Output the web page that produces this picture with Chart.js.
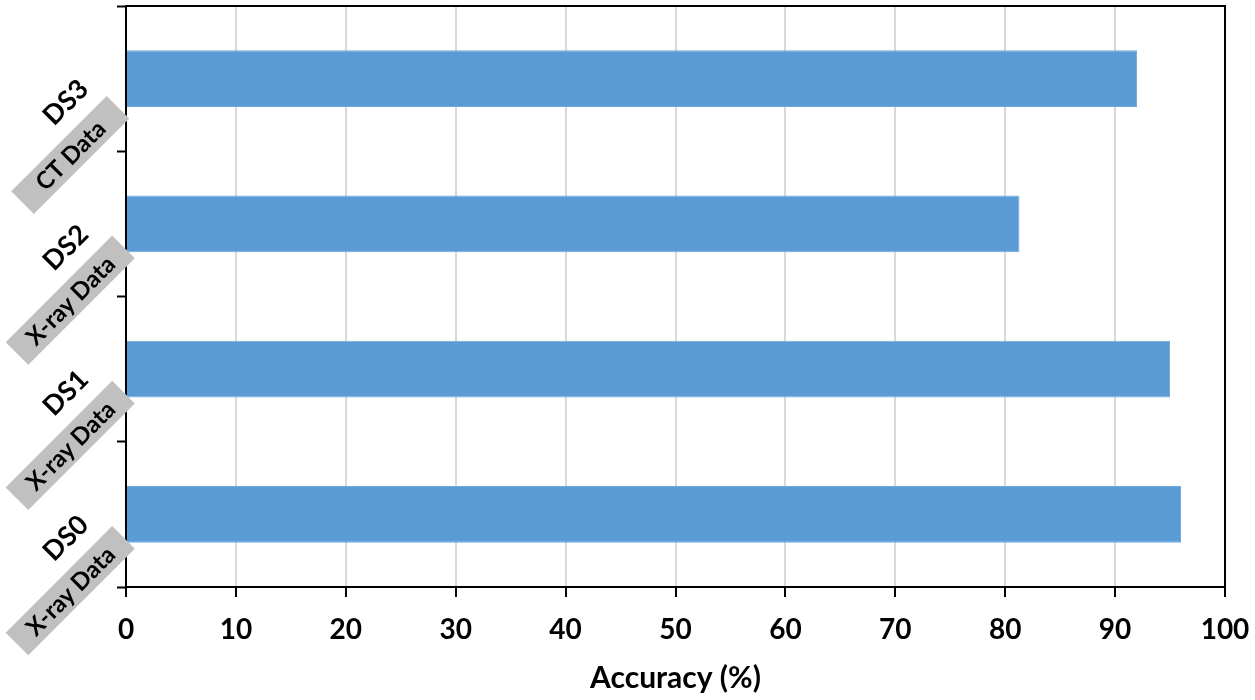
<!DOCTYPE html>
<html>
<head>
<meta charset="utf-8">
<script src="https://cdn.jsdelivr.net/npm/chart.js@4.4.1/dist/chart.umd.min.js"></script>
<style>
  html, body { margin: 0; padding: 0; background: #fff; }
  #wrap { width: 1255px; height: 700px; }
</style>
</head>
<body>
<div id="wrap"><canvas id="accChart" width="1255" height="700"></canvas></div>
<script>
// categories, bottom to top
const datasets = ["DS0", "DS1", "DS2", "DS3"];
const dataTypes = ["X-ray Data", "X-ray Data", "X-ray Data", "CT Data"];
const accuracy = [96, 95, 81.3, 92];
const xTicks = [0, 10, 20, 30, 40, 50, 60, 70, 80, 90, 100];

const FONT = "Lato, 'Open Sans', sans-serif";

// rotated two-line category labels + frame around the plot area
const labelPlugin = {
  id: "labelPlugin",
  afterDraw(chart) {
    const ctx = chart.ctx;
    const area = chart.chartArea;
    const y = chart.scales.y;

    ctx.save();
    ctx.strokeStyle = "#000";
    ctx.lineWidth = 2;
    ctx.strokeRect(area.left, area.top, area.right - area.left, area.bottom - area.top);
    ctx.restore();

    datasets.forEach((name, i) => {
      const yc = y.getPixelForValue(i);
      ctx.save();
      ctx.translate(66, yc + 24);
      ctx.rotate(-Math.PI / 4);
      ctx.textAlign = "center";
      ctx.textBaseline = "middle";
      ctx.fillStyle = "#000";
      ctx.font = "bold 27px " + FONT;
      ctx.fillText(name, 0, 0);

      ctx.font = "bold 24px " + FONT;
      const w = Math.max(ctx.measureText(dataTypes[i]).width + 36, 135);
      ctx.fillStyle = "#c0c0c0";
      ctx.fillRect(-34 - w / 2, 40 - 16, w, 32);
      ctx.fillStyle = "#000";
      ctx.fillText(dataTypes[i], -34, 41);
      ctx.restore();
    });
  }
};

new Chart(document.getElementById("accChart"), {
  type: "bar",
  data: {
    labels: datasets,
    datasets: [{
      label: "Accuracy",
      data: accuracy,
      backgroundColor: "#5b9bd5",
      borderColor: "#6ea8dc",
      borderWidth: 1,
      categoryPercentage: 1,
      barPercentage: 0.39
    }]
  },
  options: {
    indexAxis: "y",
    responsive: false,
    animation: false,
    layout: { padding: { top: 6, right: 30, left: 0, bottom: 0 } },
    plugins: {
      legend: { display: false },
      tooltip: { enabled: false }
    },
    scales: {
      x: {
        min: 0,
        max: 100,
        afterBuildTicks: (axis) => { axis.ticks = xTicks.map(v => ({ value: v })); },
        afterFit: (axis) => {
          axis.height = 113;
          axis.paddingLeft = 0;
          axis.paddingRight = 0;
        },
        grid: { color: "#d9d9d9", lineWidth: 2, tickColor: "#000", tickLength: 10, tickWidth: 2 },
        border: { color: "#000", width: 2 },
        ticks: { color: "#000", font: { family: FONT, size: 28, weight: "bold" }, padding: 16 },
        title: {
          display: true,
          text: "Accuracy (%)",
          color: "#000",
          font: { family: FONT, size: 30, weight: "bold" },
          padding: { top: 4, bottom: 4 }
        }
      },
      y: {
        reverse: true,
        afterFit: (axis) => { axis.width = 126; },
        grid: { display: true, drawOnChartArea: false, offset: true, tickColor: "#000", tickLength: 9, tickWidth: 2 },
        border: { color: "#000", width: 2 },
        ticks: { display: false }
      }
    }
  },
  plugins: [labelPlugin]
});
</script>
</body>
</html>
